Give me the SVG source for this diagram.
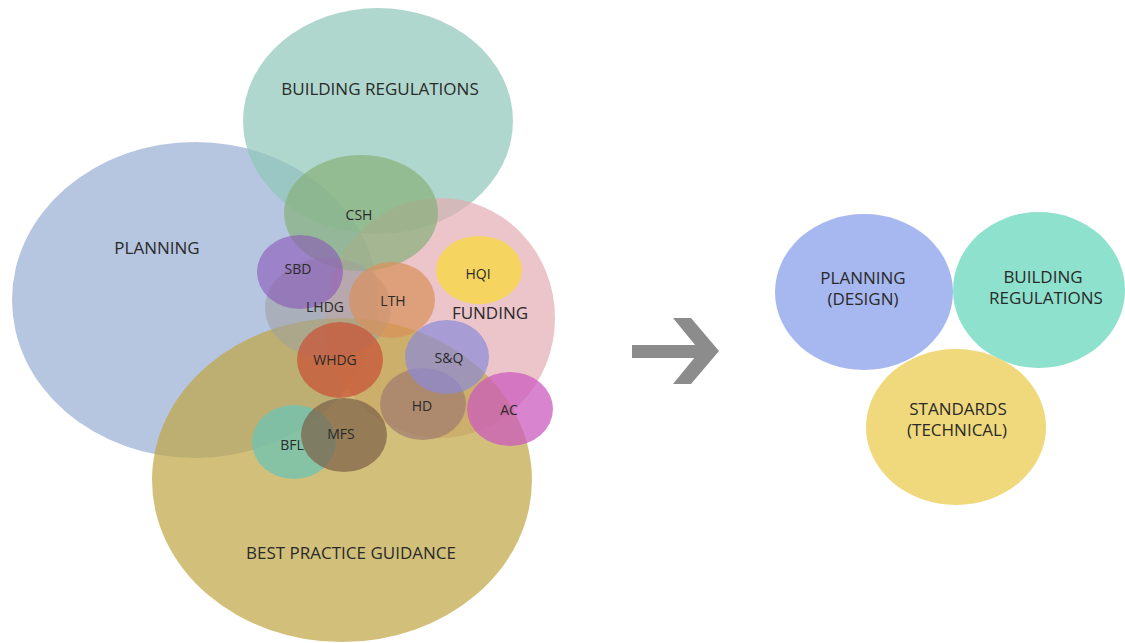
<svg xmlns="http://www.w3.org/2000/svg" width="1125" height="643" viewBox="0 0 1125 643">
<style>
text{font-family:"Open Sans","Liberation Sans",sans-serif;fill:#2a2a2a;text-anchor:middle}
.big{font-size:17px}
.sm{font-size:14px}
.a{fill-opacity:0.7}
.b{fill-opacity:0.75}
</style>
<rect width="1125" height="643" fill="#ffffff"/>
<g id="left">
<g id="planning"><ellipse class="a" cx="195" cy="300" rx="183" ry="158" fill="#97acd3"/></g>
<g id="building-regulations"><ellipse class="a" cx="378" cy="121" rx="135" ry="113" fill="#8ec6b8"/></g>
<g id="funding"><ellipse class="a" cx="440" cy="318" rx="115" ry="120" fill="#e3acb2"/></g>
<g id="best-practice"><ellipse class="a" cx="342" cy="480" rx="190" ry="162" fill="#bfa541"/></g>
<g id="csh"><ellipse class="a" cx="361" cy="213" rx="77" ry="58" fill="#88b07a"/></g>
<g id="lhdg"><ellipse fill-opacity="0.55" cx="328" cy="308" rx="63" ry="50" fill="#9f9f9f"/></g>
<g id="sbd"><ellipse fill-opacity="0.6" cx="300" cy="272" rx="43" ry="37" fill="#8a55b8"/></g>
<g id="lth"><ellipse fill-opacity="0.7" cx="392" cy="300" rx="43" ry="38" fill="#d8905a"/></g>
<g id="hqi"><ellipse fill-opacity="0.85" cx="479" cy="270" rx="43" ry="34" fill="#f7d64e"/></g>
<g id="whdg"><ellipse class="b" cx="340" cy="360" rx="43" ry="38" fill="#c8553a"/></g>
<g id="hd"><ellipse class="a" cx="423" cy="404" rx="43" ry="36" fill="#a07a70"/></g>
<g id="sq"><ellipse class="a" cx="447" cy="357" rx="42" ry="37" fill="#8a8ad8"/></g>
<g id="ac"><ellipse class="b" cx="510" cy="409" rx="43" ry="37" fill="#cc5bbd"/></g>
<g id="bfl"><ellipse class="b" cx="294" cy="442" rx="42" ry="37" fill="#6cc4b4"/></g>
<g id="mfs"><ellipse class="a" cx="344" cy="435" rx="43" ry="37" fill="#7a6048"/></g>
<text class="big" x="380" y="95">BUILDING REGULATIONS</text>
<text class="big" x="157" y="254">PLANNING</text>
<text class="sm" x="359" y="220">CSH</text>
<text class="sm" x="298" y="274">SBD</text>
<text class="sm" x="325" y="312">LHDG</text>
<text class="sm" x="393" y="306">LTH</text>
<text class="sm" x="478" y="279">HQI</text>
<text class="big" x="490" y="319">FUNDING</text>
<text class="sm" x="335" y="365">WHDG</text>
<text class="sm" x="449" y="363">S&amp;Q</text>
<text class="sm" x="422" y="411">HD</text>
<text class="sm" x="509" y="415">AC</text>
<text class="sm" x="292" y="450">BFL</text>
<text class="sm" x="341" y="439">MFS</text>
<text class="big" x="351" y="559">BEST PRACTICE GUIDANCE</text>
</g>
<g id="connectors">
<rect x="632" y="345" width="70" height="13" fill="#8c8c8c"/>
<polygon points="673,318 691,318 719,351 691,384 673,384 700,351" fill="#8c8c8c"/>
</g>
<g id="planning-design">
<ellipse cx="864" cy="292" rx="89" ry="78" fill="#a7b7ef"/>
<text class="big" x="863" y="284">PLANNING</text>
<text class="big" x="863" y="305">(DESIGN)</text>
</g>
<g id="building-regs-2">
<ellipse cx="1039" cy="290" rx="86" ry="78" fill="#8de1cd"/>
<text class="big" x="1043" y="283">BUILDING</text>
<text class="big" x="1046" y="304">REGULATIONS</text>
</g>
<g id="standards">
<ellipse cx="956" cy="427" rx="90" ry="78" fill="#f0d97c"/>
<text class="big" x="958" y="415">STANDARDS</text>
<text class="big" x="957" y="436">(TECHNICAL)</text>
</g>
</svg>
